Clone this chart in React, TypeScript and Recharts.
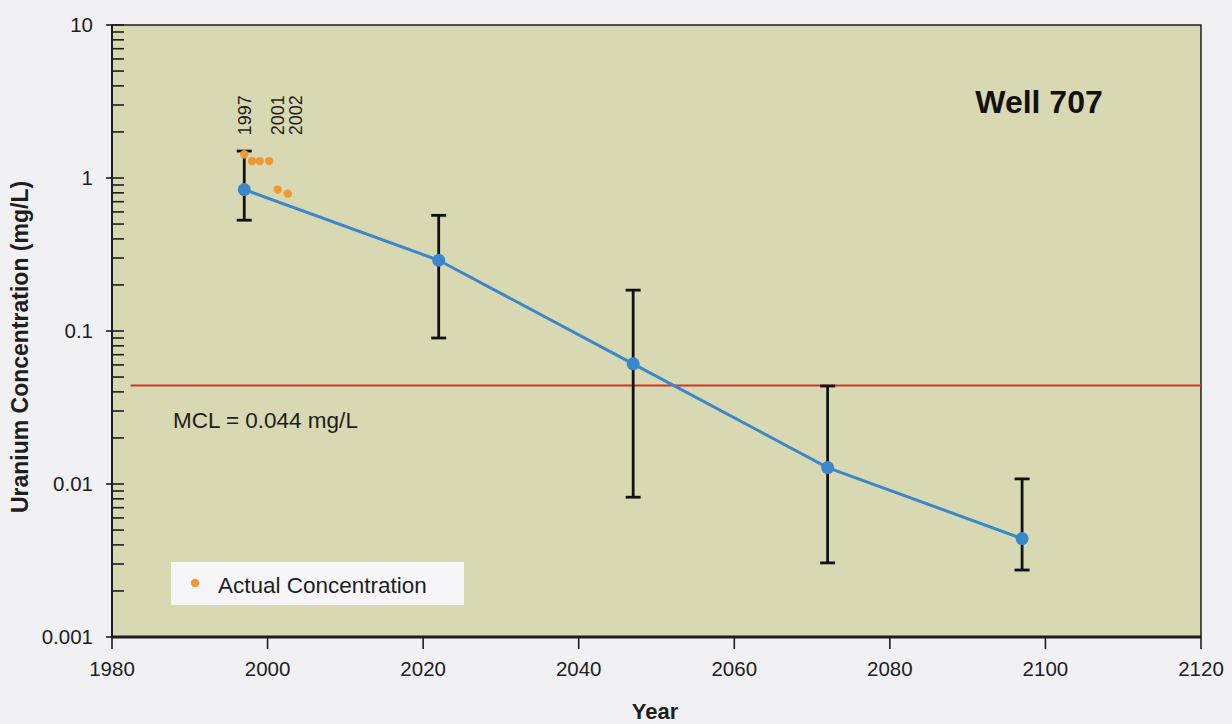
import React from 'react';
import {
  ComposedChart,
  Line,
  Scatter,
  XAxis,
  YAxis,
  ErrorBar,
  ReferenceLine,
  ReferenceArea,
} from 'recharts';

// ---------- data ----------
const predictedYears = [1997, 2022, 2047, 2072, 2097];
const predictedValues = [0.84, 0.29, 0.061, 0.0128, 0.0044];
const lowerBounds = [0.53, 0.09, 0.0082, 0.00305, 0.00274];
const upperBounds = [1.5, 0.57, 0.185, 0.0437, 0.0108];

const actualYears = [1997, 1998, 1999, 2000.2, 2001.3, 2002.6];
const actualValues = [1.43, 1.29, 1.29, 1.29, 0.84, 0.79];

const yearLabelTexts = ['1997', '2001', '2002'];
const yearLabelAnchors = [1997, 2001.3, 2003.6];
const yearLabelValue = 1.9;

const xTicks = [1980, 2000, 2020, 2040, 2060, 2080, 2100, 2120];
const yDecades = [0.001, 0.01, 0.1, 1, 10];
const yDecadeLabels = ['0.001', '0.01', '0.1', '1', '10'];
const minorMultipliers = [1, 2, 3, 4, 5, 6, 7, 8, 9];

const mclValue = 0.044;
const mclStartYear = 1982.4;

// ---------- derived tables ----------
const predictedData = predictedYears.map((year, i) => ({
  year,
  value: predictedValues[i],
  err: [predictedValues[i] - lowerBounds[i], upperBounds[i] - predictedValues[i]],
}));
const actualData = actualYears.map((year, i) => ({ year, value: actualValues[i] }));
const yearLabelData = yearLabelAnchors.map((year, i) => ({
  year,
  value: yearLabelValue,
  text: yearLabelTexts[i],
}));

const yTicks: number[] = [];
yDecades.slice(0, -1).forEach((d) => {
  minorMultipliers.forEach((m) => yTicks.push(parseFloat((d * m).toPrecision(6))));
});
yTicks.push(yDecades[yDecades.length - 1]);

const FONT = '"Liberation Sans", Arial, Helvetica, sans-serif';
const INK = '#1e1e1e';
const PLOT_BG = '#d8d9b3';
const PAGE_BG = '#f1f1f4';
const BLUE = '#3a87cc';
const ORANGE = '#ee9a30';
const RED = '#d8322a';

const YTick = (props: any) => {
  const { x, y, payload } = props;
  const v = payload.value;
  const lg = Math.log10(v);
  const major = Math.abs(lg - Math.round(lg)) < 1e-6;
  const idx = yDecades.findIndex((d) => Math.abs(d - v) < d * 1e-6);
  return (
    <g>
      <line
        x1={major ? x - 6 : x}
        x2={x + 12}
        y1={y}
        y2={y}
        stroke={INK}
        strokeWidth={1.6}
      />
      {major && idx >= 0 && (
        <text
          x={x - 19}
          y={y}
          dy="0.36em"
          textAnchor="end"
          fontSize={20.5}
          fontFamily={FONT}
          fill={INK}
        >
          {yDecadeLabels[idx]}
        </text>
      )}
    </g>
  );
};

const YearLabel = (props: any) => {
  const { cx, cy, payload } = props;
  return (
    <text
      x={cx}
      y={cy}
      dy="0.36em"
      transform={`rotate(-90 ${cx} ${cy})`}
      textAnchor="start"
      fontSize={18}
      fontFamily={FONT}
      fill={INK}
    >
      {payload.text}
    </text>
  );
};

const OrangeDot = (props: any) => {
  const { cx, cy } = props;
  return <circle cx={cx} cy={cy} r={4.2} fill={ORANGE} />;
};

export default function App() {
  return (
    <div
      style={{
        position: 'absolute',
        left: 0,
        top: 0,
        width: 1232,
        height: 724,
        background: PAGE_BG,
        overflow: 'hidden',
        fontFamily: FONT,
      }}
    >
      <ComposedChart
        width={1232}
        height={724}
        margin={{ top: 25, right: 31, bottom: 0, left: 0 }}
      >
        <XAxis
          type="number"
          dataKey="year"
          domain={[1980, 2120]}
          ticks={xTicks}
          allowDataOverflow
          height={87}
          tickSize={12}
          tickMargin={12}
          axisLine={{ stroke: INK, strokeWidth: 3 }}
          tickLine={{ stroke: INK, strokeWidth: 1.6 }}
          tick={{ fontSize: 20.5, fontFamily: FONT, fill: INK }}
        />
        <YAxis
          type="number"
          dataKey="value"
          scale="log"
          domain={[0.001, 10]}
          ticks={yTicks}
          allowDataOverflow
          interval={0}
          width={112}
          tickSize={0}
          tickMargin={0}
          tickLine={false}
          axisLine={{ stroke: INK, strokeWidth: 2 }}
          tick={<YTick />}
        />
        <ReferenceArea
          x1={1980}
          x2={2120}
          y1={0.001}
          y2={10}
          fill={PLOT_BG}
          fillOpacity={1}
          stroke={INK}
          strokeWidth={1.5}
        />
        <ReferenceLine
          segment={[
            { x: mclStartYear, y: mclValue },
            { x: 2120, y: mclValue },
          ]}
          stroke={RED}
          strokeWidth={2}
        />
        <Line
          data={predictedData}
          dataKey="value"
          stroke={BLUE}
          strokeWidth={3}
          dot={{ r: 6.5, fill: BLUE, stroke: BLUE, strokeWidth: 0 }}
          isAnimationActive={false}
        >
          <ErrorBar
            dataKey="err"
            direction="y"
            width={7.5}
            stroke="#111111"
            strokeWidth={2.8}
            isAnimationActive={false}
          />
        </Line>
        <Scatter
          data={actualData}
          dataKey="value"
          fill={ORANGE}
          shape={<OrangeDot />}
          isAnimationActive={false}
        />
        <Scatter
          data={yearLabelData}
          dataKey="value"
          shape={<YearLabel />}
          isAnimationActive={false}
        />
      </ComposedChart>

      <svg
        width={1232}
        height={724}
        style={{ position: 'absolute', left: 0, top: 0, pointerEvents: 'none' }}
      >
        <text
          x={1039}
          y={113}
          textAnchor="middle"
          fontSize={32}
          fontWeight="bold"
          fontFamily={FONT}
          fill="#111"
        >
          Well 707
        </text>
        <text x={173} y={428} fontSize={22.5} fontFamily={FONT} fill={INK}>
          MCL = 0.044 mg/L
        </text>
        <text
          x={20}
          y={347}
          dy="0.36em"
          transform="rotate(-90 20 347)"
          textAnchor="middle"
          fontSize={23}
          fontWeight="bold"
          fontFamily={FONT}
          fill={INK}
        >
          Uranium Concentration (mg/L)
        </text>
        <text
          x={655}
          y={719}
          textAnchor="middle"
          fontSize={22}
          fontWeight="bold"
          fontFamily={FONT}
          fill={INK}
        >
          Year
        </text>
      </svg>

      <div
        style={{
          position: 'absolute',
          left: 171,
          top: 562,
          width: 293,
          height: 43,
          background: '#f6f6f8',
        }}
      >
        <svg width={293} height={43} style={{ position: 'absolute', left: 0, top: 0 }}>
          <circle cx={24} cy={21} r={4.2} fill={ORANGE} />
          <text x={47} y={31} fontSize={22.5} fontFamily={FONT} fill={INK}>
            Actual Concentration
          </text>
        </svg>
      </div>
    </div>
  );
}
